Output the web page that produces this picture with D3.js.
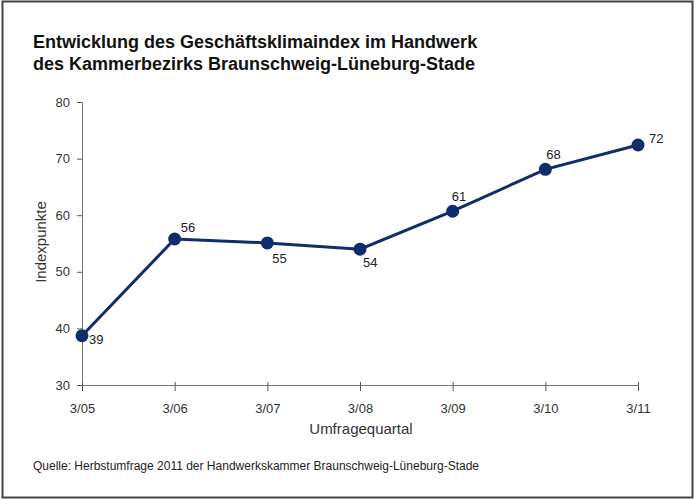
<!DOCTYPE html>
<html>
<head>
<meta charset="utf-8">
<script src="https://cdn.jsdelivr.net/npm/d3@7"></script>
<style>
  body { margin: 0; background: #fff; }
  svg text { font-family: Arial, "Liberation Sans", sans-serif; }
</style>
</head>
<body>
<div id="chart"></div>
<script>
// chart data
const quarters = ["3/05", "3/06", "3/07", "3/08", "3/09", "3/10", "3/11"];
const values = [38.7, 55.8, 55.1, 54.0, 60.7, 68.1, 72.4];
const valueLabels = ["39", "56", "55", "54", "61", "68", "72"];
const yTicks = [30, 40, 50, 60, 70, 80];

// label offsets (dx, dy) next to each point
const labelPos = [[7, 8], [6, -7], [5, 20], [3, 18], [-1, -10], [1, -10], [11, -2]];

const W = 695, H = 500;
const svg = d3.select("#chart").append("svg")
  .attr("width", W)
  .attr("height", H);

// frame round the picture
svg.append("rect")
  .attr("x", 2.5).attr("y", 1.5)
  .attr("width", W - 5).attr("height", H - 4)
  .attr("fill", "#fff")
  .attr("stroke", "#444")
  .attr("stroke-width", 2);

// title
const title = svg.append("text")
  .style("font-size", "18px")
  .style("font-weight", "bold")
  .attr("fill", "#111");
title.append("tspan").attr("x", 33).attr("y", 48)
  .text("Entwicklung des Geschäftsklimaindex im Handwerk");
title.append("tspan").attr("x", 33).attr("y", 70)
  .text("des Kammerbezirks Braunschweig-Lüneburg-Stade");

const xScale = d3.scalePoint().domain(quarters).range([82, 638]);
const yScale = d3.scaleLinear().domain([30, 80]).range([385, 102]);

// y axis
const yAxis = svg.append("g")
  .attr("transform", "translate(82,0)")
  .call(d3.axisLeft(yScale).tickValues(yTicks).tickSize(5).tickPadding(7));
yAxis.select(".domain").attr("stroke", "#777");
yAxis.selectAll(".tick line").attr("stroke", "#555");
yAxis.selectAll(".tick text")
  .style("font-size", "13px")
  .attr("fill", "#333");

// x axis
const xAxis = svg.append("g")
  .attr("transform", "translate(0,385)")
  .call(d3.axisBottom(xScale).tickSize(6).tickPadding(13).tickSizeOuter(0));
xAxis.select(".domain").attr("stroke", "#777");
xAxis.selectAll(".tick line").attr("stroke", "#555").attr("y1", -3);
xAxis.selectAll(".tick text")
  .style("font-size", "13px")
  .attr("fill", "#333");

// axis titles
svg.append("text")
  .attr("x", 361).attr("y", 434)
  .attr("text-anchor", "middle")
  .style("font-size", "15px")
  .attr("fill", "#333")
  .text("Umfragequartal");

svg.append("text")
  .attr("transform", "translate(46,242) rotate(-90)")
  .attr("text-anchor", "middle")
  .style("font-size", "15px")
  .attr("fill", "#333")
  .text("Indexpunkte");

// the line
const line = d3.line()
  .x((d, i) => xScale(quarters[i]))
  .y(d => yScale(d));

svg.append("path")
  .datum(values)
  .attr("fill", "none")
  .attr("stroke", "#0f2d6b")
  .attr("stroke-width", 3)
  .attr("d", line);

svg.selectAll(".dot")
  .data(values)
  .enter().append("circle")
  .attr("class", "dot")
  .attr("cx", (d, i) => xScale(quarters[i]))
  .attr("cy", d => yScale(d))
  .attr("r", 6.5)
  .attr("fill", "#0f2d6b");

// value labels
svg.selectAll(".vlabel")
  .data(values)
  .enter().append("text")
  .attr("class", "vlabel")
  .attr("x", (d, i) => xScale(quarters[i]) + labelPos[i][0])
  .attr("y", (d, i) => yScale(d) + labelPos[i][1])
  .style("font-size", "13px")
  .attr("fill", "#222")
  .text((d, i) => valueLabels[i]);

// source note
svg.append("text")
  .attr("x", 33).attr("y", 470)
  .style("font-size", "12px")
  .attr("fill", "#222")
  .text("Quelle: Herbstumfrage 2011 der Handwerkskammer Braunschweig-Lüneburg-Stade");
</script>
</body>
</html>
